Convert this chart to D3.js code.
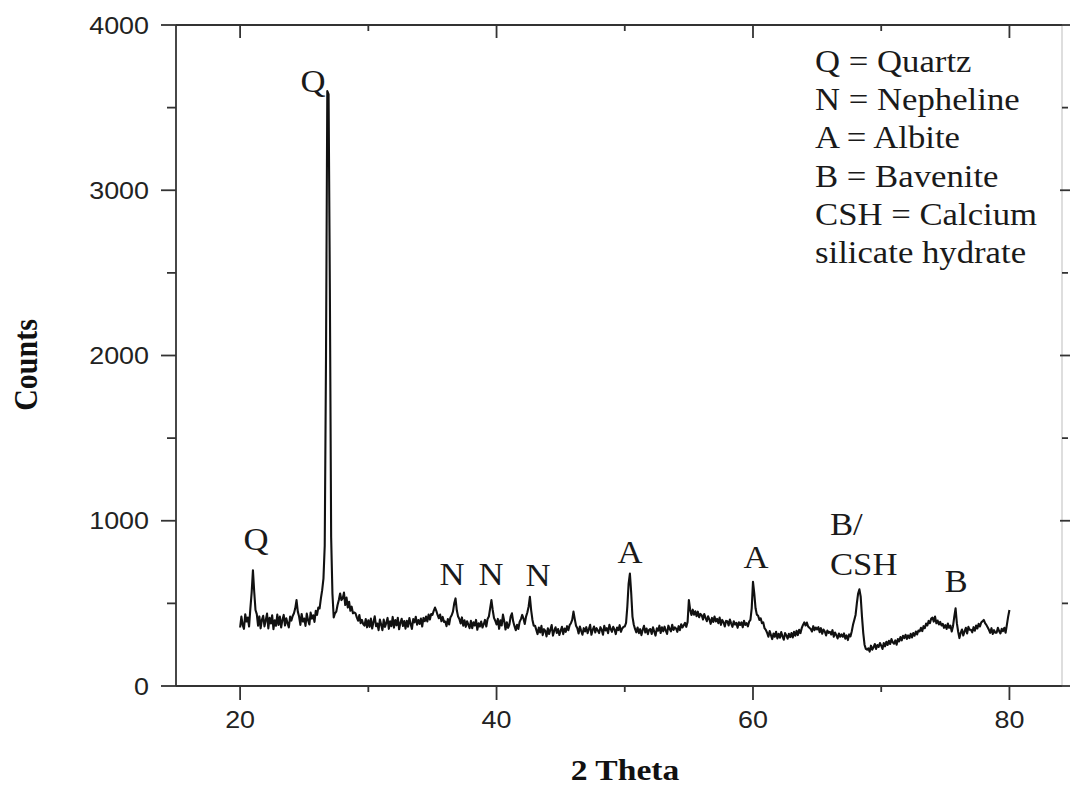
<!DOCTYPE html>
<html>
<head>
<meta charset="utf-8">
<script src="https://cdn.jsdelivr.net/npm/d3@7"></script>
<style>
  body { margin: 0; background: #fff; }
  svg { display: block; }
</style>
</head>
<body>
<svg id="chart" width="1070" height="786"></svg>
<script>
// XRD scan: counts recorded from 20° to 80° 2θ in 0.1° steps (one row per degree)
const scanStart = 20;
const scanStep = 0.1;
const counts = [
  354, 420, 370, 346, 434, 390, 414, 360, 470, 565,     // 20
  700, 570, 460, 435, 365, 421, 349, 401, 425, 361,     // 21
  398, 438, 348, 412, 378, 428, 344, 398, 364, 432,     // 22
  370, 420, 354, 400, 430, 366, 410, 380, 354, 420,     // 23
  396, 424, 440, 470, 520, 450, 420, 370, 436, 390,     // 24
  408, 364, 438, 398, 372, 444, 408, 428, 388, 455,     // 25
  430, 475, 470, 530, 580, 650, 850, 2000, 3600, 3580,  // 26
  2400, 900, 560, 415, 440, 450, 490, 520, 560, 520,    // 27
  530, 565, 490, 535, 475, 510, 455, 480, 440, 445,     // 28
  440, 415, 395, 430, 380, 400, 375, 365, 405, 355,     // 29
  398, 358, 408, 348, 388, 422, 362, 378, 338, 402,     // 30
  372, 338, 402, 358, 382, 412, 346, 392, 362, 418,     // 31
  353, 399, 367, 413, 343, 383, 407, 363, 393, 347,     // 32
  395, 359, 411, 375, 345, 405, 385, 419, 371, 399,     // 33
  375, 408, 360, 412, 392, 420, 390, 432, 402, 436,     // 34
  430, 455, 475, 455, 430, 410, 432, 392, 418, 388,     // 35
  390, 362, 405, 372, 415, 428, 450, 500, 530, 458,     // 36
  420, 405, 378, 415, 365, 398, 358, 392, 372, 350,     // 37
  394, 350, 386, 366, 400, 340, 380, 360, 390, 354,     // 38
  374, 400, 360, 405, 420, 470, 520, 460, 412, 395,     // 39
  372, 406, 346, 398, 366, 432, 392, 342, 386, 352,     // 40
  372, 420, 440, 390, 362, 338, 370, 345, 388, 405,     // 41
  430, 408, 375, 420, 445, 480, 540, 458, 400, 365,     // 42
  365, 340, 314, 354, 324, 364, 308, 344, 334, 300,     // 43
  349, 315, 341, 369, 305, 335, 355, 321, 345, 309,     // 44
  334, 358, 314, 348, 328, 362, 338, 368, 380, 400,     // 45
  450, 405, 365, 350, 318, 360, 334, 310, 350, 330,     // 46
  356, 320, 344, 370, 310, 340, 360, 324, 350, 336,     // 47
  320, 356, 340, 310, 364, 336, 350, 320, 370, 344,     // 48
  328, 358, 342, 314, 354, 338, 368, 328, 348, 358,     // 49
  360, 382, 480, 620, 680, 565, 420, 372, 345, 325,     // 50
  354, 320, 344, 308, 340, 364, 324, 348, 314, 340,     // 51
  345, 315, 355, 329, 305, 349, 335, 365, 321, 355,     // 52
  331, 359, 335, 315, 365, 345, 331, 371, 339, 355,     // 53
  348, 328, 362, 338, 374, 354, 368, 382, 358, 388,     // 54
  520, 462, 430, 462, 432, 452, 422, 450, 416, 436,     // 55
  428, 402, 436, 412, 392, 422, 402, 376, 412, 388,     // 56
  420, 390, 406, 380, 414, 370, 400, 386, 360, 394,     // 57
  392, 366, 402, 378, 358, 392, 372, 382, 352, 386,     // 58
  369, 385, 355, 395, 369, 381, 361, 389, 400, 470,     // 59
  630, 560, 470, 432, 425, 400, 410, 380, 385, 350,     // 60
  340, 322, 298, 332, 308, 284, 318, 298, 328, 288,     // 61
  316, 292, 326, 300, 280, 320, 306, 286, 316, 296,     // 62
  320, 294, 328, 304, 334, 308, 340, 320, 350, 370,     // 63
  385, 366, 384, 360, 352, 345, 330, 362, 338, 354,     // 64
  342, 356, 326, 350, 316, 342, 330, 306, 336, 322,     // 65
  328, 312, 338, 298, 324, 308, 288, 318, 298, 312,     // 66
  298, 318, 286, 306, 278, 312, 300, 330, 370, 400,     // 67
  430, 500, 560, 585, 540, 420, 320, 250, 225, 220,     // 68
  228, 208, 244, 220, 234, 254, 224, 248, 236, 260,     // 69
  244, 224, 260, 240, 268, 248, 274, 254, 284, 264,     // 70
  256, 276, 250, 284, 270, 296, 276, 304, 290, 310,     // 71
  285, 306, 290, 316, 294, 320, 304, 330, 312, 336,     // 72
  330, 352, 332, 362, 350, 378, 366, 394, 380, 408,     // 73
  414, 390, 420, 380, 396, 372, 388, 366, 376, 352,     // 74
  368, 345, 378, 352, 365, 330, 362, 420, 470, 380,     // 75
  330, 290, 322, 342, 306, 330, 352, 318, 358, 340,     // 76
  340, 325, 356, 335, 366, 348, 376, 360, 384, 392,     // 77
  400, 380, 370, 355, 340, 322, 350, 315, 338, 322,     // 78
  322, 352, 332, 318, 346, 332, 352, 322, 370, 420,     // 79
  460                                                   // 80
];

const xMajorTicks = [20, 40, 60, 80];
const xMinorTicks = [30, 50, 70];
const yMajorTicks = [0, 1000, 2000, 3000, 4000];
const yMinorTicks = [500, 1500, 2500, 3500];

// Phase labels placed above their reflections (2θ, counts)
const peakLabelText  = ["Q", "Q", "N", "N", "N", "A", "A", "B/", "CSH", "B"];
const peakLabelTheta = [21.24, 25.68, 36.53, 39.57, 43.23, 50.41, 60.23, 66.0, 66.0, 75.83];
const peakLabelCount = [823, 3595, 611, 611, 605, 744, 714, 914, 672, 569];
const peakLabelAlign = ["middle", "middle", "middle", "middle", "middle", "middle", "middle", "start", "start", "middle"];

const legendLines = [
  "Q = Quartz",
  "N = Nepheline",
  "A = Albite",
  "B = Bavenite",
  "CSH = Calcium",
  "silicate hydrate"
];

const xTitle = "2 Theta";
const yTitle = "Counts";

// ---- layout ----
const plot = { left: 176, right: 1062, top: 25, bottom: 686 };
const stretch = 1.12;           // glyphs are drawn slightly wide
const axisColor = "#333";
const axisWidth = 1.8;
const serif = "'Liberation Serif', 'Times New Roman', serif";
const sans = "'Liberation Sans', Arial, sans-serif";
const intFmt = d3.format("d");

const svg = d3.select("#chart");

const x = d3.scaleLinear().domain([15, 84.1]).range([plot.left, plot.right]);
const y = d3.scaleLinear().domain([0, 4000]).range([plot.bottom, plot.top]);

// ---- frame ----
const frame = svg.append("g").attr("stroke", axisColor).attr("stroke-width", axisWidth);
frame.append("line").attr("x1", plot.left).attr("x2", plot.right).attr("y1", plot.bottom).attr("y2", plot.bottom);
frame.append("line").attr("x1", plot.left).attr("x2", plot.right).attr("y1", plot.top).attr("y2", plot.top);
frame.append("line").attr("x1", plot.left).attr("x2", plot.left).attr("y1", plot.top).attr("y2", plot.bottom);
svg.append("line")
  .attr("x1", plot.right).attr("x2", plot.right).attr("y1", plot.top).attr("y2", plot.bottom)
  .attr("stroke", "#c8c8c8").attr("stroke-width", 1.2);

// ---- tick marks ----
const ticks = svg.append("g").attr("stroke", axisColor).attr("stroke-width", axisWidth);
function xTicks(values, y0, len) {
  ticks.append("g").selectAll("line").data(values).join("line")
    .attr("x1", d => x(d)).attr("x2", d => x(d))
    .attr("y1", y0).attr("y2", y0 + len);
}
function yTicks(values, x0, len) {
  ticks.append("g").selectAll("line").data(values).join("line")
    .attr("y1", d => y(d)).attr("y2", d => y(d))
    .attr("x1", x0).attr("x2", x0 + len);
}
xTicks(xMajorTicks, plot.bottom, 14);   // bottom, outward
xTicks(xMinorTicks, plot.bottom, 6);
xTicks(xMajorTicks, plot.top, 13);      // top, inward
xTicks(xMinorTicks, plot.top, 6);
yTicks(yMajorTicks, plot.left, -15);    // left, outward
yTicks(yMinorTicks, plot.left, -9);
yTicks(yMajorTicks, plot.right - 2, 12); // right, outward
yTicks(yMinorTicks, plot.right, 6);

// ---- tick labels ----
svg.append("g").selectAll("text").data(xMajorTicks).join("text")
  .attr("transform", d => `translate(${x(d)},${plot.bottom + 42}) scale(${stretch},1)`)
  .attr("text-anchor", "middle")
  .attr("fill", "#222")
  .style("font-family", sans).style("font-size", "24px")
  .text(intFmt);
svg.append("g").selectAll("text").data(yMajorTicks).join("text")
  .attr("transform", d => `translate(${plot.left - 27},${y(d) + 8.5}) scale(${stretch},1)`)
  .attr("text-anchor", "end")
  .attr("fill", "#222")
  .style("font-family", sans).style("font-size", "24px")
  .text(intFmt);

// ---- diffraction pattern ----
const line = d3.line()
  .x((d, i) => x(scanStart + i * scanStep))
  .y(d => y(d));
svg.append("path")
  .datum(counts)
  .attr("d", line)
  .attr("fill", "none")
  .attr("stroke", "#111")
  .attr("stroke-width", 2.1)
  .attr("stroke-linejoin", "round");

// ---- phase labels ----
svg.append("g").selectAll("text")
  .data(peakLabelText)
  .join("text")
  .attr("transform", (d, i) => `translate(${x(peakLabelTheta[i])},${y(peakLabelCount[i])}) scale(${stretch},1)`)
  .attr("text-anchor", (d, i) => peakLabelAlign[i])
  .attr("fill", "#1a1a1a")
  .style("font-family", serif).style("font-size", "31px")
  .text(d => d);

// ---- legend block ----
svg.append("g").selectAll("text")
  .data(legendLines)
  .join("text")
  .attr("transform", (d, i) => `translate(815,${72 + i * 38.2}) scale(${stretch},1)`)
  .attr("fill", "#1a1a1a")
  .style("font-family", serif).style("font-size", "31px")
  .text(d => d);

// ---- axis titles ----
svg.append("text")
  .attr("transform", `translate(${(plot.left + plot.right) / 2 + 6},780) scale(${stretch},1)`)
  .attr("text-anchor", "middle")
  .attr("fill", "#111")
  .style("font-family", serif).style("font-size", "30px").style("font-weight", "bold")
  .text(xTitle);

svg.append("text")
  .attr("transform", `translate(37,365) scale(${stretch},1) rotate(-90)`)
  .attr("text-anchor", "middle")
  .attr("fill", "#111")
  .style("font-family", serif).style("font-size", "30px").style("font-weight", "bold")
  .text(yTitle);
</script>
</body>
</html>
